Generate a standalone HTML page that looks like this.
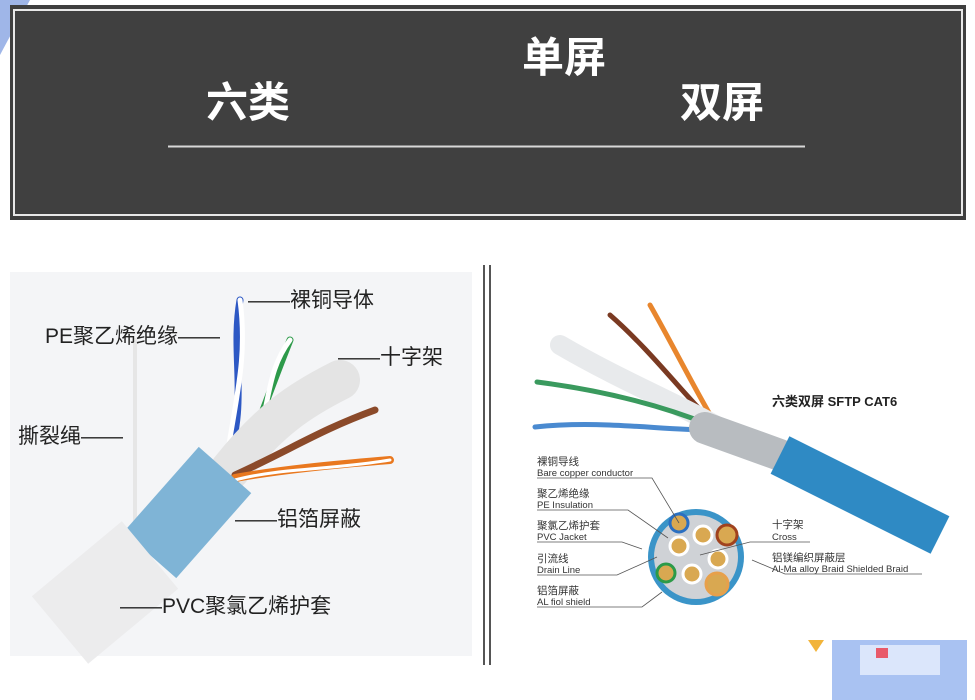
<!DOCTYPE html>
<html><head><meta charset="utf-8"><style>
html,body{margin:0;padding:0;background:#fff;width:975px;height:700px;overflow:hidden}
svg{display:block}
text{font-family:"Liberation Sans","Noto Sans CJK SC",sans-serif}
</style></head><body>
<svg width="975" height="700" viewBox="0 0 975 700" xmlns="http://www.w3.org/2000/svg">
<polygon points="0,0 30,0 8,40 0,55" fill="#9fb6e8"/>
<rect x="10" y="5" width="956" height="215" fill="#3f3f3f"/>
<rect x="14" y="10" width="948" height="205" fill="none" stroke="#e8e8e8" stroke-width="2"/>
<rect x="16" y="12" width="944" height="201" fill="#404040"/>
<text x="522" y="72" font-size="42" font-weight="bold" fill="#fff">单屏</text>
<text x="206" y="117" font-size="42" font-weight="bold" fill="#fff">六类</text>
<text x="680" y="117" font-size="42" font-weight="bold" fill="#fff">双屏</text>
<line x1="168" y1="146.5" x2="805" y2="146.5" stroke="#d8d8d8" stroke-width="2"/>
<rect x="10" y="272" width="462" height="384" fill="#f4f5f7"/>
<g stroke-linecap="round" fill="none">
<line x1="135" y1="340" x2="135" y2="520" stroke="#e6e6e6" stroke-width="4"/>
<path d="M240 300 C230 360 250 400 225 470" stroke="#2d58c4" stroke-width="7"/>
<path d="M240 300 C248 360 235 400 225 470" stroke="#ffffff" stroke-width="5"/>
<path d="M290 340 C270 390 260 420 240 470" stroke="#2d9a4a" stroke-width="7"/>
<path d="M290 340 C260 380 275 420 240 470" stroke="#fff" stroke-width="5"/>
<path d="M340 380 C300 400 270 420 230 470" stroke="#e4e4e4" stroke-width="40"/>
<path d="M375 410 C320 430 290 450 235 475" stroke="#8b4a2a" stroke-width="7"/>
<path d="M390 460 C330 465 280 470 235 478" stroke="#e9781f" stroke-width="8"/>
<path d="M390 460 C330 470 280 468 235 480" stroke="#fff" stroke-width="3"/>
<path d="M225 470 L150 555" stroke="#7fb4d6" stroke-width="70" stroke-linecap="butt"/>
<path d="M150 555 L60 630" stroke="#ececed" stroke-width="88" stroke-linecap="butt"/>
</g>
<g font-size="21" fill="#222">
<text x="248" y="307">——裸铜导体</text>
<text x="45" y="343">PE聚乙烯绝缘——</text>
<text x="338" y="364">——十字架</text>
<text x="18" y="443">撕裂绳——</text>
<text x="235" y="526">——铝箔屏蔽</text>
<text x="120" y="613">——PVC聚氯乙烯护套</text>
</g>
<line x1="484" y1="265" x2="484" y2="665" stroke="#555" stroke-width="2"/>
<line x1="490" y1="265" x2="490" y2="665" stroke="#555" stroke-width="2"/>
<g stroke-linecap="round" fill="none">
<path d="M610 315 C650 350 680 390 710 420" stroke="#7a3a22" stroke-width="5"/>
<path d="M650 305 C670 340 690 380 712 418" stroke="#e8862d" stroke-width="5"/>
<path d="M560 345 C620 380 670 400 715 425" stroke="#e8eaec" stroke-width="20"/>
<path d="M537 382 C600 390 660 405 710 425" stroke="#3a9a5e" stroke-width="5"/>
<path d="M535 427 C600 420 660 430 710 430" stroke="#4a8ad0" stroke-width="5"/>
<path d="M705 428 L780 455" stroke="#b8bcc0" stroke-width="32"/>
<path d="M780 455 L940 535" stroke="#2f8ac4" stroke-width="42" stroke-linecap="butt"/>
</g>
<text x="772" y="406" font-size="13" font-weight="bold" fill="#222">六类双屏 SFTP CAT6</text>
<circle cx="696" cy="557" r="48" fill="#3a94c8"/>
<circle cx="696" cy="557" r="42" fill="#cfd2d6"/>
<g fill="#d9a851" stroke="#fff" stroke-width="3">
<circle cx="679" cy="523" r="9" stroke="#2b6fc1"/>
<circle cx="703" cy="535" r="9"/>
<circle cx="727" cy="535" r="10" stroke="#a0421e"/>
<circle cx="679" cy="546" r="9"/>
<circle cx="718" cy="559" r="9"/>
<circle cx="666" cy="573" r="9" stroke="#2c9a48"/>
<circle cx="692" cy="574" r="9"/>
<circle cx="717" cy="584" r="11" stroke="#e7a04b"/>
</g>
<g font-size="10.5" fill="#333">
<text x="537" y="465">裸铜导线</text><text x="537" y="476" font-size="9.5">Bare copper conductor</text>
<text x="537" y="497">聚乙烯绝缘</text><text x="537" y="508" font-size="9.5">PE Insulation</text>
<text x="537" y="529">聚氯乙烯护套</text><text x="537" y="540" font-size="9.5">PVC Jacket</text>
<text x="537" y="562">引流线</text><text x="537" y="573" font-size="9.5">Drain Line</text>
<text x="537" y="594">铝箔屏蔽</text><text x="537" y="605" font-size="9.5">AL fiol shield</text>
<text x="772" y="528">十字架</text><text x="772" y="540" font-size="9.5">Cross</text>
<text x="772" y="561">铝镁编织屏蔽层</text><text x="772" y="572" font-size="9.5">Al-Ma alloy Braid Shielded Braid</text>
</g>
<g stroke="#555" stroke-width="0.8" fill="none">
<polyline points="537,478 652,478 679,523"/>
<polyline points="537,510 628,510 668,538"/>
<polyline points="537,542 622,542 642,549"/>
<polyline points="537,575 617,575 657,557"/>
<polyline points="537,607 642,607 662,592"/>
<polyline points="810,542 750,542 700,555"/>
<polyline points="922,574 785,574 752,560"/>
</g>
<polygon points="808,640 824,640 816,652" fill="#f2b43a"/>
<rect x="832" y="640" width="135" height="60" fill="#a9c2f2"/>
<rect x="860" y="645" width="80" height="30" fill="#dbe6fb"/>
<rect x="876" y="648" width="12" height="10" fill="#e85a6a"/>
</svg>
</body></html>
